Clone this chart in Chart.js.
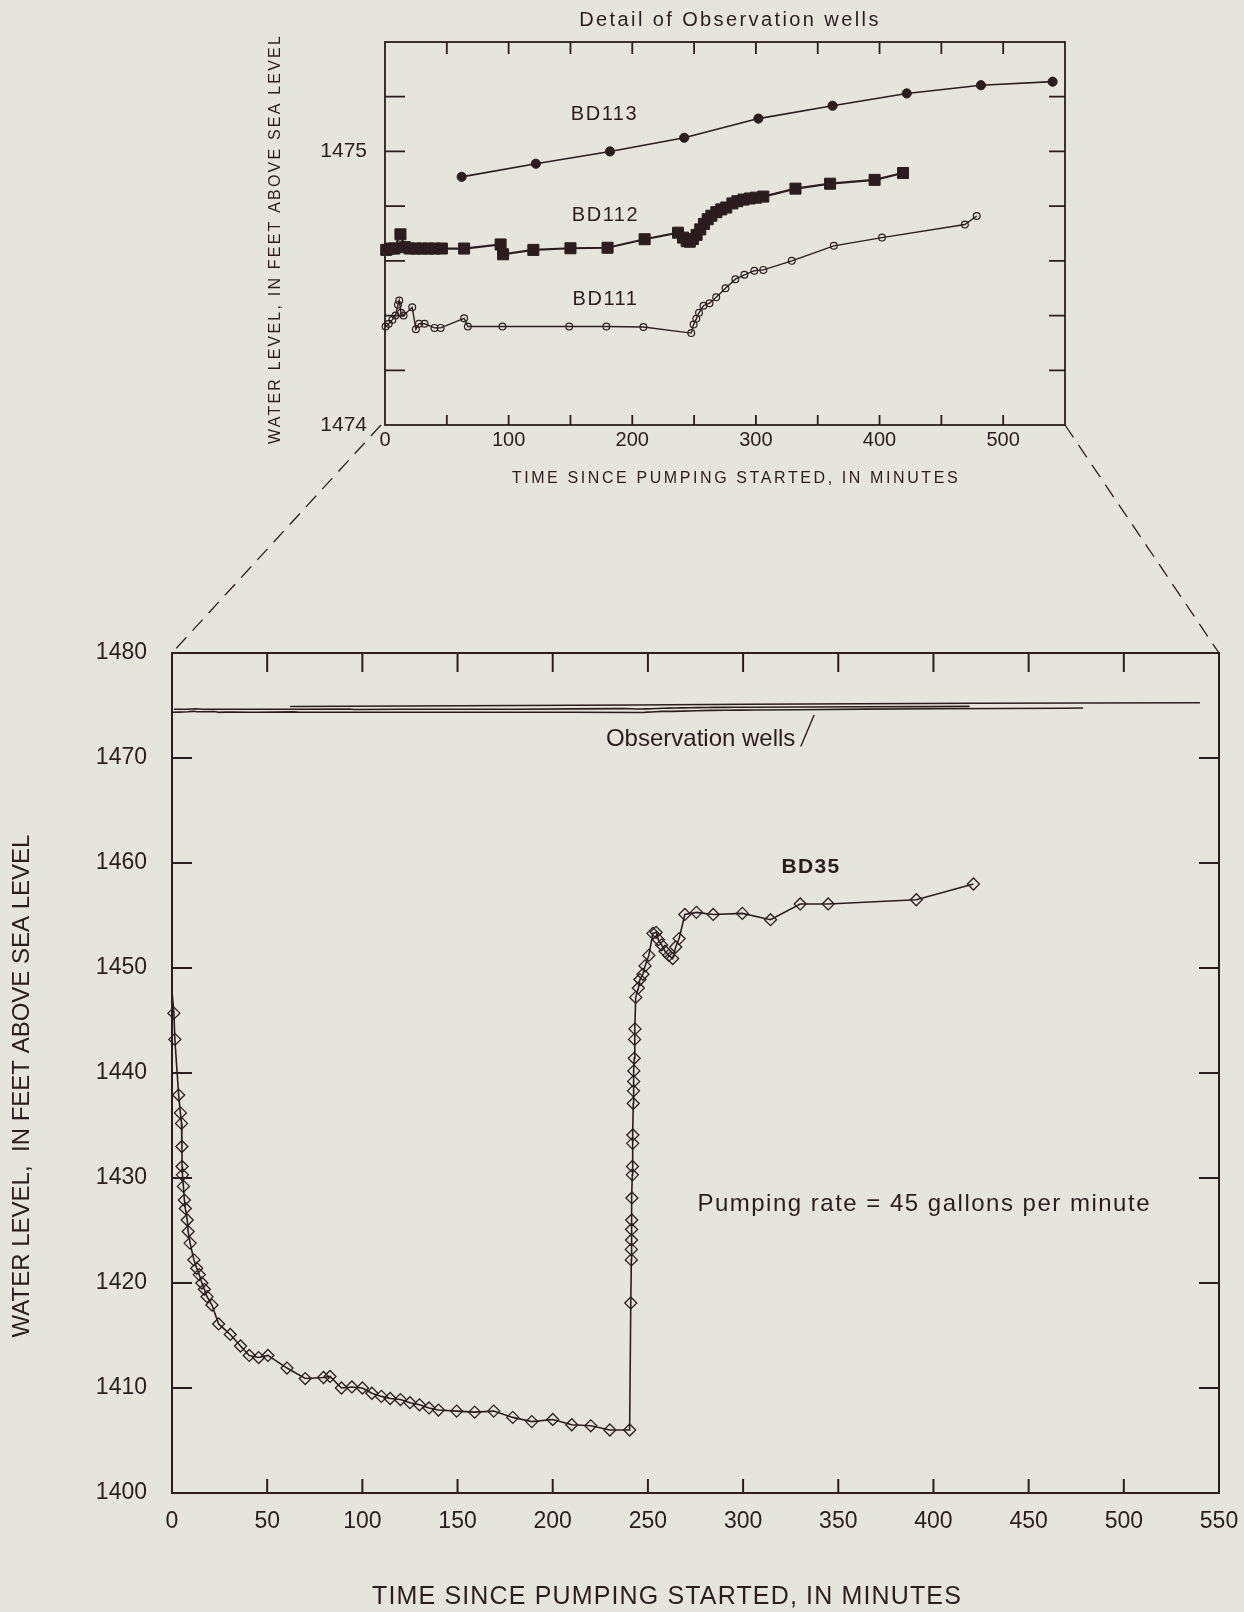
<!DOCTYPE html>
<html>
<head>
<meta charset="utf-8">
<title>Water levels during pumping test</title>
<script src="https://cdn.jsdelivr.net/npm/chart.js@4.4.1/dist/chart.umd.min.js"></script>
<style>
  html, body { margin: 0; padding: 0; background: #e5e5de; }
  #sheet { position: relative; width: 1244px; height: 1612px; overflow: hidden; background: #e5e5de; }
  #sheet canvas { position: absolute; left: 0; top: 0; }
</style>
</head>
<body>
<div id="sheet">
  <canvas id="mainChart" width="1244" height="1612"></canvas>
  <canvas id="detailChart" width="1244" height="500"></canvas>
</div>
<script>
// ---- Data: time since pumping started (minutes) and water level (feet above sea level)

// Pumped well BD35
const bd35Minutes = [0, 1, 1.5, 3.5, 4.4, 5, 5.2, 5.3, 5.5, 6, 6.5, 7, 8, 8.5, 9.5, 11.5, 13, 14.3, 15.7, 17,
  18.4, 21, 24.5, 30.6, 36, 40.6, 45.5, 50.4, 60.4, 70, 79.6, 83, 89, 94.5, 100, 105, 110, 114.6, 120, 125,
  130, 135, 140, 149.5, 159, 169, 179, 189, 200, 210, 220, 230, 240.4,
  241.0, 241.3, 241.3, 241.4, 241.4, 241.5, 241.6, 241.8, 241.9, 242.0, 242.1, 242.3, 242.4, 242.5, 242.6, 242.8,
  243.0, 243.2, 243.6, 245.0, 245.8, 247.4, 248.5, 250.5, 252.6, 254.3, 255.5, 257.2, 259.0, 261.0, 263.0, 264.6,
  266.4, 269.4, 275.5, 284.3, 299.6, 314.4, 330.0, 344.7, 391.0, 421.0];
const bd35Level = [1447.8, 1445.7, 1443.2, 1437.9, 1436.2, 1435.2, 1433.0, 1431.1, 1430.3, 1429.2, 1427.9, 1427.1,
  1426.0, 1424.9, 1423.8, 1422.2, 1421.4, 1420.8, 1420.0, 1419.4, 1418.7, 1417.9, 1416.1, 1415.1, 1414.0, 1413.1,
  1412.9, 1413.1, 1411.9, 1410.9, 1411.0, 1411.1, 1410.0, 1410.1, 1410.0, 1409.5, 1409.2, 1409.0, 1408.9, 1408.6,
  1408.4, 1408.1, 1407.9, 1407.8, 1407.7, 1407.8, 1407.2, 1406.8, 1407.0, 1406.5, 1406.4, 1406.0, 1406.0,
  1418.1, 1422.2, 1423.2, 1424.1, 1425.1, 1426.0, 1428.1, 1430.3, 1431.1, 1433.3, 1434.1, 1437.1, 1438.3, 1439.2,
  1440.2, 1441.4, 1443.2, 1444.2, 1447.2, 1448.1, 1448.9, 1449.4, 1450.2, 1451.2, 1453.3, 1453.4, 1452.7, 1452.2,
  1451.6, 1451.2, 1450.9, 1452.0, 1452.8, 1455.1, 1455.3, 1455.1, 1455.2, 1454.6, 1456.1, 1456.1, 1456.5, 1458.0];

// Observation well BD113
const bd113Minutes = [62, 122, 182, 242, 302, 362, 422, 482, 540];
const bd113Level = [1474.907, 1474.955, 1475.0, 1475.05, 1475.12, 1475.167, 1475.212, 1475.242, 1475.255];

// Observation well BD112
const bd112Minutes = [1, 4, 7.5, 12.5, 16, 20, 25, 30, 35, 40, 46, 64, 93.5, 95.5, 120, 150, 180, 210, 237, 241,
  244, 246.5, 249, 252, 255, 258, 261, 264, 268, 272, 276, 281, 285, 290, 295, 300, 306, 332, 360, 396, 419];
const bd112Level = [1474.64, 1474.645, 1474.645, 1474.697, 1474.65, 1474.645, 1474.645, 1474.645, 1474.645,
  1474.645, 1474.645, 1474.645, 1474.66, 1474.624, 1474.64, 1474.646, 1474.648, 1474.679, 1474.703, 1474.685,
  1474.672, 1474.67, 1474.68, 1474.695, 1474.715, 1474.735, 1474.752, 1474.765, 1474.778, 1474.788, 1474.795,
  1474.81, 1474.818, 1474.824, 1474.828, 1474.831, 1474.835, 1474.864, 1474.882, 1474.896, 1474.921];

// Observation well BD111
const bd111Minutes = [0.5, 3, 6, 8.5, 10.5, 11.5, 13, 15, 22, 25, 27.5, 32, 40, 45, 64, 67, 95, 149, 179, 209,
  247.7, 249.6, 251.8, 254, 257.6, 262.5, 267.9, 275.4, 283.4, 290.7, 298.7, 306, 329, 363, 402, 469, 478.6];
const bd111Level = [1474.36, 1474.37, 1474.385, 1474.40, 1474.44, 1474.455, 1474.41, 1474.40, 1474.43, 1474.35,
  1474.37, 1474.37, 1474.355, 1474.355, 1474.39, 1474.36, 1474.36, 1474.36, 1474.36, 1474.358, 1474.336, 1474.367,
  1474.388, 1474.41, 1474.436, 1474.445, 1474.467, 1474.50, 1474.533, 1474.549, 1474.564, 1474.567, 1474.60,
  1474.655, 1474.685, 1474.733, 1474.764];

// Tick labels
const mainXLabels = [0, 50, 100, 150, 200, 250, 300, 350, 400, 450, 500, 550];
const mainYLabels = [1400, 1410, 1420, 1430, 1440, 1450, 1460, 1470, 1480];
const detailXLabels = [0, 100, 200, 300, 400, 500];
const detailYLabels = [1474, 1475];

// ---- Drawing helpers
const INK = '#2b1d1d';
const FONT = '"Liberation Sans", Arial, Helvetica, sans-serif';
Chart.defaults.font.family = FONT;
Chart.defaults.color = INK;

const pts = (xs, ys) => xs.map((x, i) => ({ x, y: ys[i] }));

function text(ctx, str, x, y, size, opts = {}) {
  ctx.save();
  ctx.font = `${opts.bold ? 'bold ' : ''}${size}px ${FONT}`;
  ctx.fillStyle = INK;
  ctx.textAlign = opts.align || 'center';
  ctx.textBaseline = 'middle';
  if ('letterSpacing' in ctx) ctx.letterSpacing = (opts.spacing || 0) + 'px';
  ctx.translate(x, y);
  if (opts.rotate) ctx.rotate(opts.rotate);
  ctx.fillText(str, 0, 0);
  ctx.restore();
}

// Plot frame plus tick marks pointing into the plot, placed by the chart's scales
function frameAndTicks(chart, len, width) {
  const { ctx, chartArea: a, scales: { x, y } } = chart;
  ctx.save();
  ctx.strokeStyle = INK;
  ctx.lineWidth = width;
  ctx.beginPath();
  x.ticks.forEach(t => {
    const px = x.getPixelForValue(t.value);
    if (px <= a.left + 1 || px >= a.right - 1) return;
    ctx.moveTo(px, a.bottom); ctx.lineTo(px, a.bottom - len.bottom);
    ctx.moveTo(px, a.top); ctx.lineTo(px, a.top + len.top);
  });
  y.ticks.forEach(t => {
    const py = y.getPixelForValue(t.value);
    if (py <= a.top + 1 || py >= a.bottom - 1) return;
    ctx.moveTo(a.left, py); ctx.lineTo(a.left + len.left, py);
    ctx.moveTo(a.right, py); ctx.lineTo(a.right - len.right, py);
  });
  ctx.stroke();
  ctx.strokeRect(a.left, a.top, a.right - a.left, a.bottom - a.top);
  ctx.restore();
}

// Fixed axis band sizes; label overhang must not push the plot area around
function fixedBand(size) {
  return s => {
    if (s.isHorizontal()) s.height = size; else s.width = size;
    s.paddingLeft = s.paddingRight = s.paddingTop = s.paddingBottom = 0;
  };
}

const hiddenGrid = { display: false, drawTicks: false };
const noBorder = { display: false };

// ---- Detail chart of the observation wells
const detailChart = new Chart(document.getElementById('detailChart'), {
  type: 'line',
  data: {
    datasets: [
      { label: 'BD113', data: pts(bd113Minutes, bd113Level), borderColor: INK, borderWidth: 1.6,
        pointStyle: 'circle', pointRadius: 4.6, pointBackgroundColor: INK, pointBorderColor: INK, pointBorderWidth: 1 },
      { label: 'BD112', data: pts(bd112Minutes, bd112Level), borderColor: INK, borderWidth: 2.2,
        pointStyle: 'rect', pointRadius: 7.8, pointBackgroundColor: INK, pointBorderColor: INK, pointBorderWidth: 1 },
      { label: 'BD111', data: pts(bd111Minutes, bd111Level), borderColor: INK, borderWidth: 1.4,
        pointStyle: 'circle', pointRadius: 3.4, pointBackgroundColor: 'rgba(0,0,0,0)', pointBorderColor: INK, pointBorderWidth: 1.2 }
    ]
  },
  options: {
    responsive: false, animation: false, devicePixelRatio: 1,
    layout: { padding: { top: 42, left: 265, right: 179, bottom: 0 } },
    datasets: { line: { tension: 0, clip: false } },
    plugins: { legend: { display: false }, tooltip: { enabled: false } },
    events: [],
    scales: {
      x: {
        type: 'linear', min: 0, max: 550,
        afterFit: fixedBand(75),
        ticks: { stepSize: 50, padding: 3, maxRotation: 0, autoSkip: false, color: INK, font: { size: 20 },
          callback: v => detailXLabels.includes(v) ? String(v) : '' },
        grid: hiddenGrid, border: noBorder
      },
      y: {
        type: 'linear', min: 1474, max: 1475.4,
        afterFit: fixedBand(120),
        ticks: { stepSize: 0.2, padding: 18, autoSkip: false, color: INK, font: { size: 21 },
          callback: v => { const r = Math.round(v * 10) / 10; return detailYLabels.includes(r) ? String(r) : ''; } },
        grid: hiddenGrid, border: noBorder
      }
    }
  },
  plugins: [{
    id: 'detailDecor',
    afterDraw(chart) {
      const { ctx, scales: { x, y } } = chart;
      frameAndTicks(chart, { left: 20, right: 16, top: 12, bottom: 10 }, 1.8);
      text(ctx, 'Detail of Observation wells', 730, 20, 20, { spacing: 2.4 });
      text(ctx, 'TIME SINCE PUMPING STARTED, IN MINUTES', 736, 479, 16, { spacing: 2.6 });
      text(ctx, 'WATER LEVEL, IN FEET ABOVE SEA LEVEL', 276, 239, 16, { spacing: 2.2, rotate: -Math.PI / 2 });
      text(ctx, 'BD113', x.getPixelForValue(177.5), y.getPixelForValue(1475.135), 20, { spacing: 1.5 });
      text(ctx, 'BD112', x.getPixelForValue(178.3), y.getPixelForValue(1474.767), 20, { spacing: 1.5 });
      text(ctx, 'BD111', x.getPixelForValue(178.3), y.getPixelForValue(1474.458), 20, { spacing: 1.5 });
    }
  }]
});

// ---- Main chart: pumped well with the observation wells on the same scale
new Chart(document.getElementById('mainChart'), {
  type: 'line',
  data: {
    datasets: [
      { label: 'BD35', data: pts(bd35Minutes, bd35Level), borderColor: INK, borderWidth: 1.6,
        pointStyle: 'rectRot', pointRadius: c => (c.dataIndex === 0 ? 0 : 6),
        pointBackgroundColor: 'rgba(0,0,0,0)', pointBorderColor: INK, pointBorderWidth: 1.3 },
      { label: 'BD113', data: pts(bd113Minutes, bd113Level), borderColor: INK, borderWidth: 1.6, pointRadius: 0 },
      { label: 'BD112', data: pts(bd112Minutes, bd112Level), borderColor: INK, borderWidth: 1.6, pointRadius: 0 },
      { label: 'BD111', data: pts(bd111Minutes, bd111Level), borderColor: INK, borderWidth: 1.6, pointRadius: 0 }
    ]
  },
  options: {
    responsive: false, animation: false, devicePixelRatio: 1,
    layout: { padding: { top: 653, left: 0, right: 25, bottom: 0 } },
    datasets: { line: { tension: 0, clip: false } },
    plugins: { legend: { display: false }, tooltip: { enabled: false } },
    events: [],
    scales: {
      x: {
        type: 'linear', min: 0, max: 550,
        afterFit: fixedBand(119),
        ticks: { stepSize: 50, padding: 15, maxRotation: 0, autoSkip: false, color: INK, font: { size: 23 },
          callback: v => mainXLabels.includes(v) ? String(v) : '' },
        grid: hiddenGrid, border: noBorder
      },
      y: {
        type: 'linear', min: 1400, max: 1480,
        afterFit: fixedBand(172),
        ticks: { stepSize: 10, padding: 25, autoSkip: false, color: INK, font: { size: 23 },
          callback: v => mainYLabels.includes(v) ? String(v) : '' },
        grid: hiddenGrid, border: noBorder
      }
    }
  },
  plugins: [{
    id: 'mainDecor',
    afterDraw(chart) {
      const { ctx, chartArea: a, scales: { x, y } } = chart;
      frameAndTicks(chart, { left: 20, right: 20, top: 19, bottom: 14 }, 2);

      // dashed lines tying the detail plot to this one
      const d = detailChart.chartArea;
      ctx.save();
      ctx.strokeStyle = INK;
      ctx.lineWidth = 1.3;
      ctx.setLineDash([15, 9]);
      ctx.beginPath();
      ctx.moveTo(d.left - 4, d.bottom); ctx.lineTo(a.left, a.top);
      ctx.moveTo(d.right, d.bottom); ctx.lineTo(a.right, a.top);
      ctx.stroke();
      ctx.setLineDash([]);
      // leader from the label to the observation-well lines
      ctx.lineWidth = 1.4;
      ctx.beginPath();
      ctx.moveTo(x.getPixelForValue(330.3), y.getPixelForValue(1471.1));
      ctx.lineTo(x.getPixelForValue(337.3), y.getPixelForValue(1474.1));
      ctx.stroke();
      ctx.restore();

      text(ctx, 'Observation wells', x.getPixelForValue(277.7), y.getPixelForValue(1471.8), 24);
      text(ctx, 'BD35', x.getPixelForValue(335.7), y.getPixelForValue(1459.6), 21, { bold: true, spacing: 1.3 });
      text(ctx, 'Pumping rate = 45 gallons per minute', x.getPixelForValue(276), y.getPixelForValue(1427.5), 24,
        { align: 'left', spacing: 1.5 });
      text(ctx, 'TIME SINCE PUMPING STARTED, IN MINUTES', 667, 1597, 25, { spacing: 1.15 });
      text(ctx, 'WATER LEVEL,  IN FEET ABOVE SEA LEVEL', 22, 1086, 24, { rotate: -Math.PI / 2 });
    }
  }]
});
</script>
</body>
</html>
